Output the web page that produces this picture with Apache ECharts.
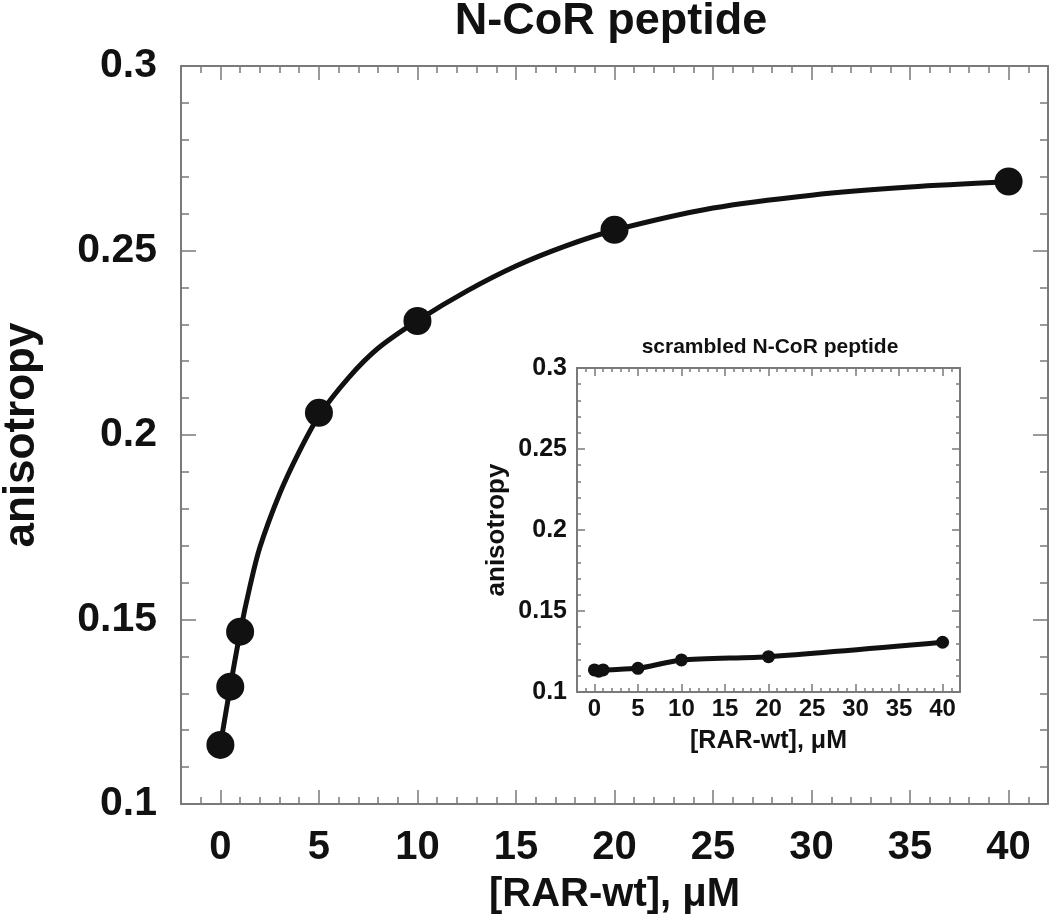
<!DOCTYPE html>
<html>
<head>
<meta charset="utf-8">
<script src="https://cdn.jsdelivr.net/npm/echarts@6/dist/echarts.min.js"></script>
<style>
html,body{margin:0;padding:0;background:#fff;}
#chart{width:1050px;height:922px;}
</style>
</head>
<body>
<div id="chart"></div>
<script>
// main titration, N-CoR peptide
var conc = [0, 0.5, 1, 5, 10, 20, 40];
var aniso = [0.1160, 0.1318, 0.1467, 0.2060, 0.2309, 0.2556, 0.2687];
// fitted curve
var fitX = [0, 0.5, 1, 1.5, 2, 3, 4, 5, 6.5, 8, 10, 12.5, 15, 17.5, 20, 25, 30, 35, 40];
var fitY = [0.1160, 0.1318, 0.1465, 0.1590, 0.1695, 0.1840, 0.1955, 0.2052, 0.2155, 0.2235, 0.2310, 0.2390, 0.2458, 0.2512, 0.2555, 0.2615, 0.2650, 0.2672, 0.2686];
// inset, scrambled peptide
var scrConc = [0, 0.5, 1, 5, 10, 20, 40];
var scrAniso = [0.1136, 0.1128, 0.1136, 0.1146, 0.1198, 0.1218, 0.1307];
// tick labels
var xMajorTicks = [0, 5, 10, 15, 20, 25, 30, 35, 40];

var FONT = 'Liberation Sans';
var INK = '#111';
var GREY = '#7a7a7a';

function pairs(xs, ys) {
  var out = [];
  for (var i = 0; i < xs.length; i++) out.push([xs[i], ys[i]]);
  return out;
}

// x axis that only draws ticks (minor every 1, or the majors from xMajorTicks)
function xTicks(grid, pos, major, len, showLine) {
  var ax = {
    type: 'value', gridIndex: grid, position: pos,
    min: -2, max: 42,
    axisLine: {show: showLine, onZero: false, lineStyle: {color: GREY, width: 2}},
    splitLine: {show: false},
    axisLabel: {show: false},
    axisTick: {show: true, inside: true, length: len, lineStyle: {color: GREY, width: 1.5}}
  };
  if (major) {
    ax.axisTick.customValues = xMajorTicks;
  } else {
    ax.interval = 1;
  }
  return ax;
}

function yAxisDef(grid, pos, len, minLen) {
  return {
    type: 'value', gridIndex: grid, position: pos,
    min: 0.1, max: 0.3, interval: 0.05,
    axisLine: {show: true, onZero: false, lineStyle: {color: GREY, width: 2}},
    splitLine: {show: false},
    axisLabel: {show: false},
    axisTick: {show: true, inside: true, length: len, lineStyle: {color: GREY, width: 1.5}},
    minorTick: {show: true, splitNumber: 5, length: minLen, lineStyle: {color: GREY, width: 1.5}}
  };
}

var xAxes = [
  xTicks(0, 'bottom', false, 7, true),
  xTicks(0, 'bottom', true, 14, false),
  xTicks(0, 'top', false, 7, true),
  xTicks(0, 'top', true, 14, false),
  xTicks(1, 'bottom', false, 4, true),
  xTicks(1, 'bottom', true, 8, false),
  xTicks(1, 'top', false, 4, true),
  xTicks(1, 'top', true, 8, false)
];
// labels and names on the bottom major axes
xAxes[1].axisLabel = {show: true, customValues: xMajorTicks, margin: 24,
  fontSize: 40, fontWeight: 'bold', fontFamily: FONT, color: INK};
xAxes[1].name = '[RAR-wt], μM';
xAxes[1].nameLocation = 'middle';
xAxes[1].nameGap = 71;
xAxes[1].nameTextStyle = {fontSize: 40, fontWeight: 'bold', fontFamily: FONT, color: INK};
xAxes[5].axisLabel = {show: true, customValues: xMajorTicks, margin: 5,
  fontSize: 24, fontWeight: 'bold', fontFamily: FONT, color: INK};
xAxes[5].name = '[RAR-wt], μM';
xAxes[5].nameLocation = 'middle';
xAxes[5].nameGap = 37;
xAxes[5].nameTextStyle = {fontSize: 25, fontWeight: 'bold', fontFamily: FONT, color: INK};

var yAxes = [
  yAxisDef(0, 'left', 15, 8),
  yAxisDef(0, 'right', 15, 8),
  yAxisDef(1, 'left', 8, 4),
  yAxisDef(1, 'right', 8, 4)
];
yAxes[0].axisLabel = {show: true, margin: 24, fontSize: 41, fontWeight: 'bold', fontFamily: FONT, color: INK};
yAxes[0].name = 'anisotropy';
yAxes[0].nameLocation = 'middle';
yAxes[0].nameGap = 137;
yAxes[0].nameTextStyle = {fontSize: 44, fontWeight: 'bold', fontFamily: FONT, color: INK};
yAxes[2].axisLabel = {show: true, margin: 10, fontSize: 25, fontWeight: 'bold', fontFamily: FONT, color: INK};
yAxes[2].name = 'anisotropy';
yAxes[2].nameLocation = 'middle';
yAxes[2].nameGap = 67;
yAxes[2].nameTextStyle = {fontSize: 26, fontWeight: 'bold', fontFamily: FONT, color: INK};

var option = {
  animation: false,
  backgroundColor: '#fff',
  grid: [
    {left: 181, top: 66, right: 2, bottom: 118, show: false, outerBoundsMode: 'none', containLabel: false},
    {left: 577, top: 368, right: 90, bottom: 230, show: true, backgroundColor: '#fff', borderWidth: 0,
      outerBoundsMode: 'none', containLabel: false}
  ],
  graphic: [
    {type: 'text', x: 611, y: 22, style: {text: 'N-CoR peptide', align: 'center', verticalAlign: 'middle',
      font: 'bold 45px "Liberation Sans"', fill: INK}},
    {type: 'text', x: 770, y: 347, style: {text: 'scrambled N-CoR peptide', align: 'center', verticalAlign: 'middle',
      font: 'bold 21px "Liberation Sans"', fill: INK}}
  ],
  xAxis: xAxes,
  yAxis: yAxes,
  series: [
    {
      name: 'fit', type: 'line', xAxisIndex: 0, yAxisIndex: 0,
      data: pairs(fitX, fitY), smooth: 0.3,
      showSymbol: false, symbol: 'none',
      lineStyle: {color: INK, width: 5}, z: 2
    },
    {
      name: 'N-CoR', type: 'scatter', xAxisIndex: 0, yAxisIndex: 0,
      data: pairs(conc, aniso), symbol: 'circle', symbolSize: 28,
      itemStyle: {color: INK, opacity: 1}, z: 3
    },
    {
      name: 'scrambled', type: 'line', xAxisIndex: 4, yAxisIndex: 2,
      data: pairs(scrConc, scrAniso), symbol: 'circle', symbolSize: 13, showSymbol: true,
      smooth: 0.25,
      lineStyle: {color: INK, width: 5}, itemStyle: {color: INK, opacity: 1}, z: 3
    }
  ]
};

var chart = echarts.init(document.getElementById('chart'));
chart.setOption(option);
</script>
</body>
</html>
